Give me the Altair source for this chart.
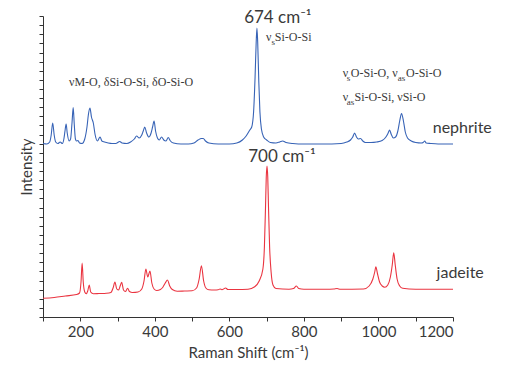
import altair as alt
import pandas as pd

# ---------------- data ----------------
neph_x = [100, 110, 118, 122, 126, 130, 134, 140, 146, 152,
          156, 159, 162, 165, 170, 174, 178, 181, 184, 187,
          190, 194, 198, 205, 212, 218, 222, 226, 230, 235,
          240, 246, 253, 258, 265, 275, 285, 295, 306, 312,
          325, 335, 345, 351, 358, 365, 369, 373, 378, 384,
          390, 394, 398, 402, 407, 412, 418, 424, 430, 436,
          442, 450, 470, 490, 505, 516, 525, 530, 536, 545,
          570, 600, 620, 635, 645, 655, 660, 665, 669, 672,
          674, 676, 679, 682, 686, 692, 700, 710, 725, 735,
          743, 752, 770, 800, 850, 900, 915, 925, 931, 936,
          941, 946, 952, 958, 965, 980, 995, 1010, 1020, 1026,
          1030, 1034, 1040, 1046, 1052, 1057, 1062, 1067, 1072, 1078,
          1088, 1100, 1115, 1120, 1124, 1128, 1140, 1160, 1200]
neph_y = [173.5, 173, 175, 182, 194, 182, 175, 173.5, 175, 173.5,
          178, 186, 193, 184, 176, 178, 195, 209.5, 192, 178,
          176, 176.5, 174, 173.5, 178, 190, 203, 209, 200, 194,
          182, 176, 180, 176, 175, 174, 173.5, 173.5, 175.5, 174,
          173.5, 175, 178, 181, 179, 182, 186, 190, 184, 180,
          184, 190, 196, 186, 179, 177, 180, 177, 176, 179.5,
          176, 174, 173, 173, 174, 177, 178.5, 178.5, 176, 174,
          173, 173, 174, 177, 181, 187, 190, 205, 240, 275,
          289, 275, 235, 205, 188, 180, 177, 174.5, 174, 175,
          176, 174.5, 173.5, 173, 173, 173.5, 175, 177, 180, 184,
          180, 178, 178.5, 176, 174.5, 174.5, 175, 176.5, 180, 184,
          187, 183, 179, 180, 186, 196, 203.5, 196, 185, 179,
          176, 174.5, 174, 174.5, 176, 174, 173.5, 173, 173]

jade_x = [100, 130, 160, 190, 198, 202, 205, 208, 212, 216,
          220, 224, 228, 235, 250, 270, 282, 288, 293, 298,
          303, 307, 311, 316, 321, 327, 332, 340, 355, 365,
          371, 376, 381, 387, 392, 398, 405, 415, 422, 428,
          434, 440, 447, 460, 480, 500, 512, 519, 525, 531,
          537, 545, 560, 570, 575, 580, 590, 596, 620, 650,
          668, 680, 690, 694, 697, 699, 701, 703, 705, 708,
          712, 717, 725, 760, 772, 780, 786, 800, 860, 880,
          889, 898, 960, 975, 985, 990, 993, 997, 1003, 1010,
          1017, 1025, 1032, 1037, 1041, 1045, 1050, 1057, 1065, 1100,
          1200]
jade_y = [18.7, 19.5, 21, 22.5, 24, 35, 54, 35, 25, 23.2,
          26, 32, 25, 23.3, 23.5, 23.8, 24.5, 29, 35, 28,
          27, 31, 34.7, 27, 25.5, 28.7, 25.5, 24.5, 25, 28,
          36, 48, 40, 46, 34, 28, 26.5, 27.5, 30, 34,
          37, 31, 27.5, 25.8, 26, 26.2, 29, 38, 51.3, 36,
          29, 27.2, 27, 27.2, 28, 27.3, 29, 27.5, 27.5, 27.8,
          30.3, 36, 48, 70, 110, 140, 151, 140, 110, 70,
          45, 32, 28.5, 27.7, 28.5, 31, 28.5, 27.7, 27.7, 28,
          28.5, 27.7, 28, 31, 38, 45, 50.3, 44, 35, 31,
          29.7, 32, 40, 52, 64.3, 52, 38, 31, 28.7, 27.8,
          27.7]

series_names = ["nephrite", "jadeite"]
series_colors = ["#3763b6", "#ea3440"]
x_ticks = list(range(100, 1201, 100))
y_ticks = [round(k * 9.12, 2) for k in range(34)]

df = pd.concat([
    pd.DataFrame({"shift": neph_x, "intensity": neph_y, "sample": "nephrite"}),
    pd.DataFrame({"shift": jade_x, "intensity": jade_y, "sample": "jadeite"}),
])

SANS = "Lato"
SERIF = "Liberation Serif"
TXT = "#3a3a3a"

x_scale = alt.Scale(domain=[100, 1200], nice=False, zero=False)
y_scale = alt.Scale(domain=[0, 301], nice=False, zero=False)
x_axis = alt.Axis(values=x_ticks, title="Raman Shift (cm⁻¹)", format="d",
                  labelExpr="datum.value % 200 == 0 ? datum.label : ''",
                  grid=False, tickSize=4, labelPadding=3, titlePadding=6)
y_axis = alt.Axis(values=y_ticks, labels=False, grid=False, tickSize=4,
                  title="Intensity", titlePadding=4)

lines = alt.Chart(df).mark_line(strokeWidth=1.1, interpolate="monotone").encode(
    x=alt.X("shift:Q", scale=x_scale, axis=x_axis),
    y=alt.Y("intensity:Q", scale=y_scale, axis=y_axis),
    color=alt.Color("sample:N", scale=alt.Scale(domain=series_names, range=series_colors),
                    legend=None),
    detail="sample:N",
)

one = pd.DataFrame({"a": [0]})


def label(text, x, y, size, font, align="left", color=TXT):
    return alt.Chart(one).mark_text(
        text=text, fontSize=size, font=font, align=align, baseline="middle", color=color
    ).encode(
        x=alt.X(datum=x, type="quantitative", scale=x_scale, axis=x_axis),
        y=alt.Y(datum=y, type="quantitative", scale=y_scale, axis=y_axis),
    )


texts = [
    label("674 cm⁻¹", 730, 299, 17, SANS, "center"),
    label("700 cm⁻¹", 741, 160, 17, SANS, "center"),
    label("nephrite", 1145.6, 189, 16, SANS),
    label("jadeite", 1156, 44, 16, SANS),
    # line 1
    label("νM-O, δSi-O-Si, δO-Si-O", 169.7, 235, 12, SERIF),
    # line 2: vs Si-O-Si
    label("ν", 698, 280, 12, SERIF),
    label("s", 713, 275, 9, SERIF),
    label("Si-O-Si", 722, 280, 12, SERIF),
    # line 3
    label("ν", 904.3, 244, 12, SERIF),
    label("s", 915, 239, 9, SERIF),
    label("O-Si-O, ν", 926, 244, 12, SERIF),
    label("as", 1052, 239, 9, SERIF),
    label("O-Si-O", 1074, 244, 12, SERIF),
    # line 4
    label("ν", 904.3, 220, 12, SERIF),
    label("as", 915, 215, 9, SERIF),
    label("Si-O-Si, νSi-O", 936, 220, 12, SERIF),
]

chart = alt.layer(lines, *texts).properties(
    width=410, height=301,
    autosize=alt.AutoSizeParams(type="none"),
    padding={"left": 43, "top": 16, "right": 70, "bottom": 51},
).configure_view(stroke=None).configure_axis(
    domainColor="#333333", tickColor="#333333",
    labelColor=TXT, titleColor=TXT, labelFont=SANS, titleFont=SANS,
    labelFontSize=15, titleFontSize=15, titleFontWeight="normal",
)

chart.save("out.html", embed_options={"renderer": "svg", "actions": False})
